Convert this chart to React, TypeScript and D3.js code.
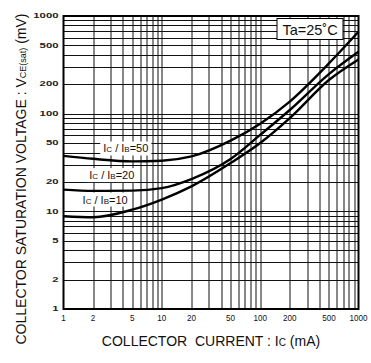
import * as d3 from 'd3'
import { useRef, useEffect } from 'react'

// collector current (mA) sample points, shared by all curves
const currents = [1, 2, 5, 10, 20, 50, 100, 200, 500, 1000]
// VCE(sat) in mV
const vce50 = [37, 34.5, 32.5, 33, 36.5, 53, 79, 133, 327, 690]
const vce20 = [16.7, 16.2, 16.3, 17.3, 21.4, 34.3, 60.6, 109, 254, 430]
const vce10 = [8.9, 8.7, 10.4, 13.2, 18, 31.2, 50, 90, 221, 359]
const ratios = ['50', '20', '10']
const xTicks = [1, 2, 5, 10, 20, 50, 100, 200, 500, 1000]
const yTicks = [1, 2, 5, 10, 20, 50, 100, 200, 500, 1000]

const FONT = "'Liberation Sans', Arial, sans-serif"

const App = () => {
  const ref = useRef(null)

  useEffect(() => {
    drawChart()
  }, [])

  const drawChart = () => {
    const margin = { top: 16, left: 63.5 }
    const width = 295
    const height = 293

    const svg = d3.select(ref.current)
    svg.selectAll('*').remove()

    const g = svg.append('g').attr('transform', 'translate(' + margin.left + ',' + margin.top + ')')

    const x = d3.scaleLog().domain([1, 1000]).range([0, width])
    const y = d3.scaleLog().domain([1, 1000]).range([height, 0])

    // grid: 1..9 for each decade
    const minors = []
    for (let dec = 1; dec < 1000; dec *= 10) {
      for (let k = 2; k <= 9; k++) minors.push(dec * k)
    }
    minors.push(10, 100)

    g.append('g')
      .selectAll('line')
      .data(minors)
      .enter()
      .append('line')
      .attr('x1', d => Math.round(x(d)) + 0.5)
      .attr('x2', d => Math.round(x(d)) + 0.5)
      .attr('y1', 0)
      .attr('y2', height)
      .attr('stroke', '#111')
      .attr('stroke-width', 1)

    g.append('g')
      .selectAll('line')
      .data(minors)
      .enter()
      .append('line')
      .attr('y1', d => Math.round(y(d)) + 0.5)
      .attr('y2', d => Math.round(y(d)) + 0.5)
      .attr('x1', 0)
      .attr('x2', width)
      .attr('stroke', '#111')
      .attr('stroke-width', 1)

    // border
    g.append('rect')
      .attr('x', 0)
      .attr('y', 0)
      .attr('width', width)
      .attr('height', height)
      .attr('fill', 'none')
      .attr('stroke', '#000')
      .attr('stroke-width', 2)

    // tick labels, x (narrow) and y (wide)
    g.append('g')
      .selectAll('text')
      .data(xTicks)
      .enter()
      .append('text')
      .attr('transform', d => 'translate(' + x(d) + ',' + (height + 12) + ') scale(0.85,1)')
      .attr('text-anchor', 'middle')
      .attr('font-family', FONT)
      .attr('font-size', 9.5)
      .attr('fill', '#111')
      .text(d => d)

    g.append('g')
      .selectAll('text')
      .data(yTicks)
      .enter()
      .append('text')
      .attr('transform', d => 'translate(-5,' + (y(d) + 2.2) + ') scale(1.8,1)')
      .attr('text-anchor', 'end')
      .attr('font-family', FONT)
      .attr('font-size', 6.3)
      .attr('font-weight', 'bold')
      .attr('fill', '#222')
      .text(d => d)

    // curve labels (drawn before curves, white box hides grid)
    const labels = [
      { r: ratios[0], cx: x(4.3), cy: y(44) },
      { r: ratios[1], cx: x(3.1), cy: y(23.5) },
      { r: ratios[2], cx: x(2.65), cy: y(13.2) }
    ]
    labels.forEach(l => {
      const lg = g.append('g')
      const box = lg.append('rect').attr('fill', '#fff')
      const t = lg.append('text')
        .attr('x', l.cx)
        .attr('y', l.cy + 4)
        .attr('text-anchor', 'middle')
        .attr('font-family', FONT)
        .attr('font-size', 11)
        .attr('fill', '#111')
      t.append('tspan').text('I')
      t.append('tspan').attr('font-size', 8).text('C')
      t.append('tspan').text(' / I')
      t.append('tspan').attr('font-size', 8).text('B')
      t.append('tspan').text('=' + l.r)
      const bb = t.node().getBBox()
      box
        .attr('x', bb.x - 3)
        .attr('y', bb.y - 1)
        .attr('width', bb.width + 6)
        .attr('height', bb.height + 2)
    })

    // curves
    const line = d3
      .line()
      .x((d, i) => x(currents[i]))
      .y(d => y(d))
      .curve(d3.curveMonotoneX)

    g.append('g')
      .selectAll('path')
      .data([vce50, vce20, vce10])
      .enter()
      .append('path')
      .attr('d', d => line(d))
      .attr('fill', 'none')
      .attr('stroke', '#000')
      .attr('stroke-width', 2.4)

    // Ta box
    g.append('rect')
      .attr('x', 213.5)
      .attr('y', 2.5)
      .attr('width', 66)
      .attr('height', 21)
      .attr('fill', '#fff')
      .attr('stroke', '#000')
      .attr('stroke-width', 1)
    g.append('text')
      .attr('x', 246.5)
      .attr('y', 18.5)
      .attr('text-anchor', 'middle')
      .attr('font-family', FONT)
      .attr('font-size', 14.5)
      .attr('fill', '#111')
      .text('Ta=25˚C')

    // axis titles
    const xt = svg.append('text')
      .attr('x', 211)
      .attr('y', 346)
      .attr('text-anchor', 'middle')
      .attr('font-family', FONT)
      .attr('font-size', 14)
      .attr('fill', '#111')
      .attr('xml:space', 'preserve')
    xt.append('tspan').text('COLLECTOR  CURRENT : I')
    xt.append('tspan').attr('font-size', 10).text('C')
    xt.append('tspan').text(' (mA)')

    const yt = svg.append('text')
      .attr('transform', 'translate(26,179) rotate(-90)')
      .attr('text-anchor', 'middle')
      .attr('font-family', FONT)
      .attr('font-size', 14)
      .attr('fill', '#111')
      .attr('xml:space', 'preserve')
    yt.append('tspan').text('COLLECTOR SATURATION VOLTAGE : V')
    yt.append('tspan').attr('font-size', 9).text('CE(sat)')
    yt.append('tspan').text(' (mV)')
  }

  return (
    <div style={{ position: 'absolute', left: 0, top: 0 }}>
      <svg ref={ref} width={371} height={363} style={{ display: 'block', background: '#fff' }}></svg>
    </div>
  )
}

export default App
